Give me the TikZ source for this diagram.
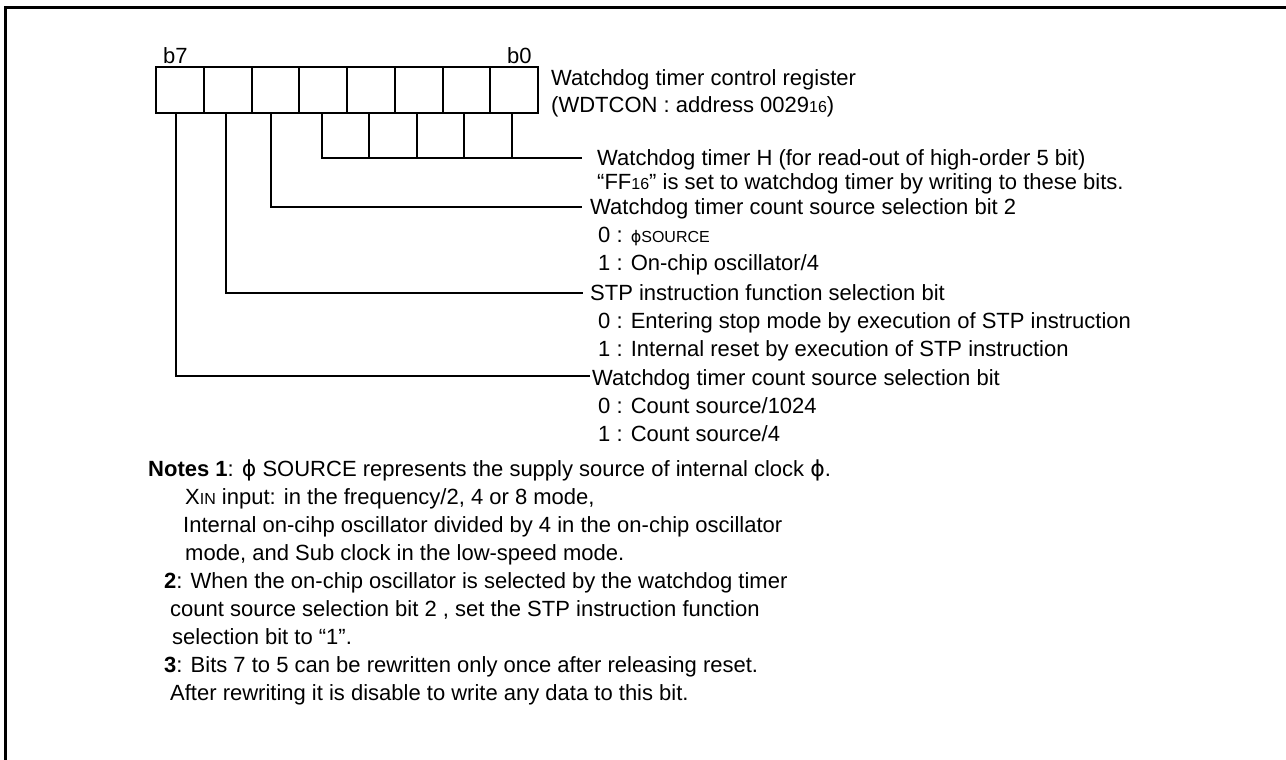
\documentclass[tikz,border=0pt]{standalone}
\usepackage{fontspec}
\setmainfont{Liberation Sans}
\newfontfamily\dvfont{DejaVu Sans}
\newcommand\smt[1]{{\fontsize{16}{16}\selectfont #1}}
\newcommand\phis{{\dvfont ϕ}}
\begin{document}
\begin{tikzpicture}[x=1pt,y=-1pt,
  font=\fontsize{22}{26}\selectfont,
  lbl/.style={anchor=base west, inner sep=0pt},
  cell/.style={draw, line width=2pt, minimum width=47.75pt, minimum height=46pt, inner sep=0pt, outer sep=0pt},
  wire/.style={line width=2pt},
  frame/.style={line width=3pt}]
\useasboundingbox (0,0) rectangle (1286,760);
\draw[frame] (5,760) -- (5,8) -- (1286,8);
% register cells
\foreach \i in {0,...,7}{
  \pgfmathtruncatemacro\bit{7-\i}
  \node[cell] (b\bit) at ({156+47.75*(\i+0.5)},90) {};
}
\node[lbl] (lb7) at (163,64) {b7};
\node[lbl] (lb0) at (507,64) {b0};
\node[lbl] (title1) at (551,85) {Watchdog timer control register};
\node[lbl] (title2) at (551,112) {(WDTCON : address 0029\smt{16})};
% end points
\coordinate (tH) at (582,158);
\coordinate (t5) at (582,207);
\coordinate (t6) at (583,293);
\coordinate (t7) at (590,376);
% connectors
\draw[wire] ([xshift=-1pt]b4.south) |- (tH);
\foreach \b in {3,2,1,0}{
  \draw[wire] ([xshift=-2pt]b\b.south) -- ([xshift=-2pt]b\b.south |- tH);
}
\draw[wire] ([xshift=-4pt]b5.south) |- (t5);
\draw[wire] ([xshift=-2pt]b6.south) |- (t6);
\draw[wire] ([xshift=-3.5pt]b7.south) |- (t7);
% descriptions
\node[lbl] (dH) at (597,165) {Watchdog timer H (for read-out of high-order 5 bit)};
\node[lbl] (dFF) at (597,189) {“FF\smt{16}” is set to watchdog timer by writing to these bits.};
\node[lbl] (d5) at (590,214) {Watchdog timer count source selection bit 2};
\node[lbl] (d50) at (598,242) {0 : \smt{\phis SOURCE}};
\node[lbl] (d51) at (598,270) {1 : On-chip oscillator/4};
\node[lbl] (d6) at (590,300) {STP instruction function selection bit};
\node[lbl] (d60) at (598,328) {0 : Entering stop mode by execution of STP instruction};
\node[lbl] (d61) at (598,356) {1 : Internal reset by execution of STP instruction};
\node[lbl] (d7) at (592,385) {Watchdog timer count source selection bit};
\node[lbl] (d70) at (598,413) {0 : Count source/1024};
\node[lbl] (d71) at (598,441) {1 : Count source/4};
% notes
\node[lbl] (n1) at (148,476) {\textbf{Notes 1}: \phis{} SOURCE represents the supply source of internal clock \phis.};
\node[lbl] (n1a) at (185,504) {X\smt{IN} input: in the frequency/2, 4 or 8 mode,};
\node[lbl] (n1b) at (183,532) {Internal on-cihp oscillator divided by 4 in the on-chip oscillator};
\node[lbl] (n1c) at (185,560) {mode, and Sub clock in the low-speed mode.};
\node[lbl] (n2) at (164,588) {\textbf{2}: When the on-chip oscillator is selected by the watchdog timer};
\node[lbl] (n2a) at (170,616) {count source selection bit 2 , set the STP instruction function};
\node[lbl] (n2b) at (172,644) {selection bit to “1”.};
\node[lbl] (n3) at (164,672) {\textbf{3}: Bits 7 to 5 can be rewritten only once after releasing reset.};
\node[lbl] (n3a) at (170,700) {After rewriting it is disable to write any data to this bit.};
\end{tikzpicture}
\end{document}
